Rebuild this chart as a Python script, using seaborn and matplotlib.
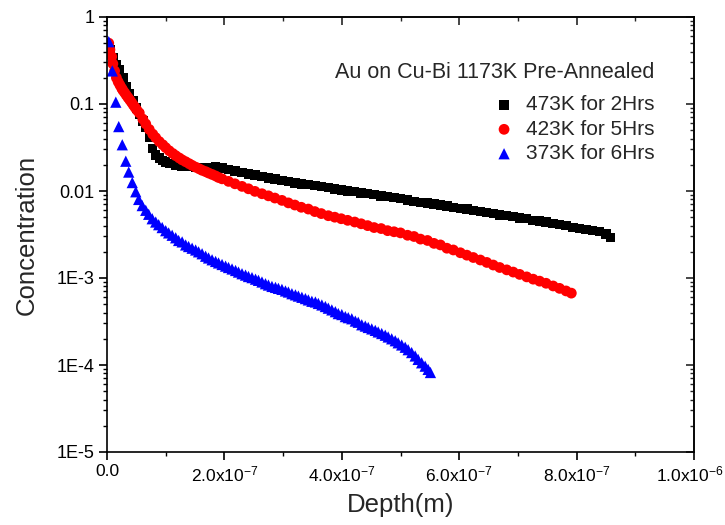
import matplotlib
matplotlib.use("Agg")
import matplotlib.pyplot as plt
import matplotlib.ticker as mticker
import matplotlib.transforms as mtrans
import numpy as np
import pandas as pd
import seaborn as sns

# ---------------- data (depth in nm, concentration) ----------------
black_depth_nm = [5, 10, 16, 21, 27, 33, 38, 44, 50, 55, 61, 66, 72, 78, 83, 89, 95, 100,
                  106, 117, 128, 140, 151, 162, 173, 185, 196, 207, 218, 230, 241, 252,
                  264, 275, 286, 298, 309, 320, 331, 343, 354, 365, 377, 388, 399, 410,
                  422, 433, 444, 455, 467, 478, 489, 500, 512, 523, 534, 546, 557, 568,
                  579, 590, 602, 613, 624, 636, 647, 658, 669, 681, 692, 703, 715, 726,
                  737, 748, 760, 771, 782, 794, 805, 816, 827, 839, 850, 858]
black_conc = [0.42, 0.34, 0.28, 0.25, 0.20, 0.16, 0.13, 0.108, 0.090, 0.076, 0.064, 0.054,
              0.041, 0.031, 0.026, 0.024, 0.0225, 0.0215, 0.0208, 0.0200, 0.0194, 0.0190,
              0.0185, 0.0183, 0.0186, 0.0189, 0.0184, 0.0178, 0.0170, 0.0163, 0.0157, 0.0152,
              0.0147, 0.0141, 0.0137, 0.0132, 0.0129, 0.0124, 0.0121, 0.0118, 0.0115, 0.0112,
              0.0109, 0.0106, 0.0103, 0.0100, 0.0098, 0.0095, 0.0093, 0.0091, 0.0088, 0.0086,
              0.0084, 0.0082, 0.0079, 0.0076, 0.0074, 0.0073, 0.0071, 0.0069, 0.0067, 0.0065,
              0.0063, 0.0062, 0.0060, 0.0058, 0.0057, 0.0055, 0.0053, 0.0052, 0.0051, 0.0049,
              0.0048, 0.0046, 0.0045, 0.0044, 0.0042, 0.0041, 0.0040, 0.0038, 0.0037, 0.0036,
              0.0035, 0.0034, 0.0032, 0.0029]

red_depth_nm = [3, 5, 8, 10, 13, 16, 19, 22, 25, 27, 30, 33, 36, 39, 42, 45, 48, 51, 55,
                61, 66, 72, 78, 83, 89, 95, 100, 106, 112, 117, 123, 128, 134, 140, 145,
                151, 157, 162, 168, 173, 179, 185, 190, 196, 207, 218, 230, 241, 252, 264,
                275, 286, 298, 309, 320, 331, 343, 354, 365, 377, 388, 399, 410, 422, 433,
                444, 455, 467, 478, 489, 500, 512, 523, 534, 546, 557, 568, 579, 590, 602,
                613, 624, 636, 647, 658, 669, 681, 692, 703, 715, 726, 737, 748, 760, 771,
                782, 791]
red_conc = [0.50, 0.42, 0.35, 0.29, 0.24, 0.20, 0.18, 0.165, 0.152, 0.144, 0.135, 0.126,
            0.118, 0.111, 0.104, 0.097, 0.091, 0.085, 0.079, 0.067, 0.059, 0.051, 0.045,
            0.041, 0.037, 0.034, 0.0315, 0.029, 0.027, 0.0255, 0.024, 0.0228, 0.0217,
            0.0206, 0.0197, 0.0188, 0.0180, 0.0173, 0.0167, 0.0161, 0.0155, 0.0149, 0.0143,
            0.0138, 0.0129, 0.0121, 0.0113, 0.0106, 0.0099, 0.0093, 0.0088, 0.0083, 0.0078,
            0.0073, 0.0069, 0.0065, 0.0062, 0.0058, 0.0055, 0.0052, 0.0050, 0.0048, 0.0046,
            0.0044, 0.0042, 0.0040, 0.0038, 0.0037, 0.0035, 0.0034, 0.0033, 0.0031, 0.0030,
            0.0028, 0.0027, 0.0025, 0.0024, 0.0022, 0.0021, 0.00195, 0.00183, 0.00172,
            0.00161, 0.00151, 0.00141, 0.00132, 0.00124, 0.00117, 0.00110, 0.00103, 0.00097,
            0.00092, 0.00087, 0.00081, 0.00076, 0.00071, 0.00067]

blue_depth_nm = [3, 9, 15, 20, 26, 32, 37, 43, 49, 54, 60, 66, 71, 77, 83, 88, 94, 100,
                 105, 111, 117, 122, 128, 134, 139, 145, 151, 156, 162, 168, 173, 179, 185,
                 190, 196, 202, 207, 213, 219, 224, 230, 236, 241, 247, 253, 258, 264, 270,
                 275, 281, 287, 292, 298, 304, 309, 315, 321, 326, 332, 338, 343, 349, 355,
                 360, 366, 372, 377, 383, 389, 394, 400, 406, 411, 417, 423, 428, 434, 440,
                 445, 451, 457, 462, 468, 474, 479, 485, 491, 496, 502, 508, 513, 519, 525,
                 530, 536, 542, 547, 551]
blue_conc = [0.52, 0.24, 0.105, 0.055, 0.034, 0.022, 0.0165, 0.0125, 0.0098, 0.0080, 0.0068,
             0.0060, 0.0054, 0.0048, 0.0044, 0.0041, 0.0038, 0.0035, 0.0033, 0.0031, 0.0029,
             0.0027, 0.0026, 0.0024, 0.0023, 0.0022, 0.0021, 0.0020, 0.0019, 0.00178,
             0.00170, 0.00162, 0.00155, 0.00149, 0.00143, 0.00137, 0.00132, 0.00127, 0.00122,
             0.00117, 0.00112, 0.00108, 0.00104, 0.00101, 0.00097, 0.00094, 0.00090, 0.00086,
             0.00083, 0.00080, 0.00078, 0.00076, 0.00074, 0.00071, 0.00069, 0.00066, 0.00064,
             0.00062, 0.00060, 0.00058, 0.00056, 0.00054, 0.00053, 0.00051, 0.00049, 0.00047,
             0.00045, 0.00043, 0.00041, 0.00039, 0.00038, 0.00036, 0.00035, 0.00034, 0.00032,
             0.00031, 0.00029, 0.00028, 0.00027, 0.00026, 0.00025, 0.00024, 0.00023, 0.00022,
             0.00021, 0.000200, 0.000190, 0.000180, 0.000170, 0.000160, 0.000150, 0.000139,
             0.000127, 0.000116, 0.000106, 0.000097, 0.000089, 0.000082]

labels = ["473K for 2Hrs", "423K for 5Hrs", "373K for 6Hrs"]
legend_title = "Au on Cu-Bi 1173K Pre-Annealed"
x_tick_vals = [0.0, 2e-7, 4e-7, 6e-7, 8e-7, 1e-6]
x_tick_labels = ["0.0", r"2.0x10$^{-7}$", r"4.0x10$^{-7}$", r"6.0x10$^{-7}$",
                 r"8.0x10$^{-7}$", r"1.0x10$^{-6}$"]
y_tick_vals = [1e-5, 1e-4, 1e-3, 1e-2, 1e-1, 1]
y_tick_labels = ["1E-5", "1E-4", "1E-3", "0.01", "0.1", "1"]

# ---------------- style ----------------
sns.set_style("ticks")
plt.rcParams["font.family"] = ["Liberation Sans", "DejaVu Sans"]
plt.rcParams["mathtext.default"] = "regular"
plt.rcParams["axes.linewidth"] = 1.2

df = pd.concat([
    pd.DataFrame({"Depth": np.array(black_depth_nm) * 1e-9, "Conc": black_conc, "series": labels[0]}),
    pd.DataFrame({"Depth": np.array(red_depth_nm) * 1e-9, "Conc": red_conc, "series": labels[1]}),
    pd.DataFrame({"Depth": np.array(blue_depth_nm) * 1e-9, "Conc": blue_conc, "series": labels[2]}),
], ignore_index=True)

fig = plt.figure(figsize=(7.25, 5.25), dpi=100)
ax = fig.add_axes([107 / 725, 1 - 452 / 525, (694 - 107) / 725, (452 - 17) / 525])

styles = {labels[0]: ("s", "#000000", 46),
          labels[1]: ("o", "#FF0000", 60),
          labels[2]: ("^", "#0000FF", 66)}
for lab in labels:
    m, c, s = styles[lab]
    sub = df[df["series"] == lab]
    sns.scatterplot(data=sub, x="Depth", y="Conc", ax=ax, marker=m, color=c, s=s,
                    linewidth=0, edgecolor="none", label=lab, legend=False)

ax.set_yscale("log")
ax.set_xlim(0, 1e-6)
ax.set_ylim(1e-5, 1)

ax.set_xticks(x_tick_vals)
ax.set_xticklabels(x_tick_labels)
ax.xaxis.set_minor_locator(mticker.MultipleLocator(1e-7))
ax.set_yticks(y_tick_vals)
ax.set_yticklabels(y_tick_labels)
ax.yaxis.set_minor_locator(mticker.LogLocator(base=10, subs=np.arange(2, 10)))
ax.yaxis.set_minor_formatter(mticker.NullFormatter())

ax.tick_params(axis="both", which="major", direction="out", length=6, width=1.2,
               labelsize=13, top=False, right=False, color="black", labelcolor="black")
ax.tick_params(axis="x", which="major", labelsize=12.5, pad=3)
ax.tick_params(axis="both", which="minor", direction="out", length=3, width=1.0,
               top=False, right=False, color="black")
ax.tick_params(axis="y", which="major", pad=3)
for sp in ax.spines.values():
    sp.set_visible(True)
    sp.set_color("black")
    sp.set_linewidth(1.2)

# shift the last x tick label slightly left so it stays inside the canvas
last = ax.get_xticklabels()[-1]
last.set_transform(last.get_transform() + mtrans.ScaledTranslation(-4 / 100, 0, fig.dpi_scale_trans))

# top / right ticks pointing inward
secx = ax.secondary_xaxis("top")
secx.set_xticks(x_tick_vals)
secx.xaxis.set_minor_locator(mticker.MultipleLocator(1e-7))
secx.tick_params(which="major", direction="in", length=6, width=1.2, labeltop=False)
secx.tick_params(which="minor", direction="in", length=3, width=1.0)
secy = ax.secondary_yaxis("right")
secy.set_yticks(y_tick_vals)
secy.yaxis.set_minor_locator(mticker.LogLocator(base=10, subs=np.arange(2, 10)))
secy.yaxis.set_minor_formatter(mticker.NullFormatter())
secy.tick_params(which="major", direction="in", length=6, width=1.2, labelright=False)
secy.tick_params(which="minor", direction="in", length=3, width=1.0)

ax.set_xlabel("Depth(m)", fontsize=18.5, labelpad=6)
ax.set_ylabel("Concentration", fontsize=18.5, labelpad=13)

leg = ax.legend(title=legend_title, alignment="right", frameon=False, loc="upper right",
                bbox_to_anchor=(0.947, 0.916), fontsize=15, title_fontsize=15.5,
                handlelength=1.0, handletextpad=0.55, labelspacing=0.26,
                borderaxespad=0)
leg.get_title().set_ha("right")
leg._legend_box.sep = 9

fig.savefig("out.png", dpi=100)
